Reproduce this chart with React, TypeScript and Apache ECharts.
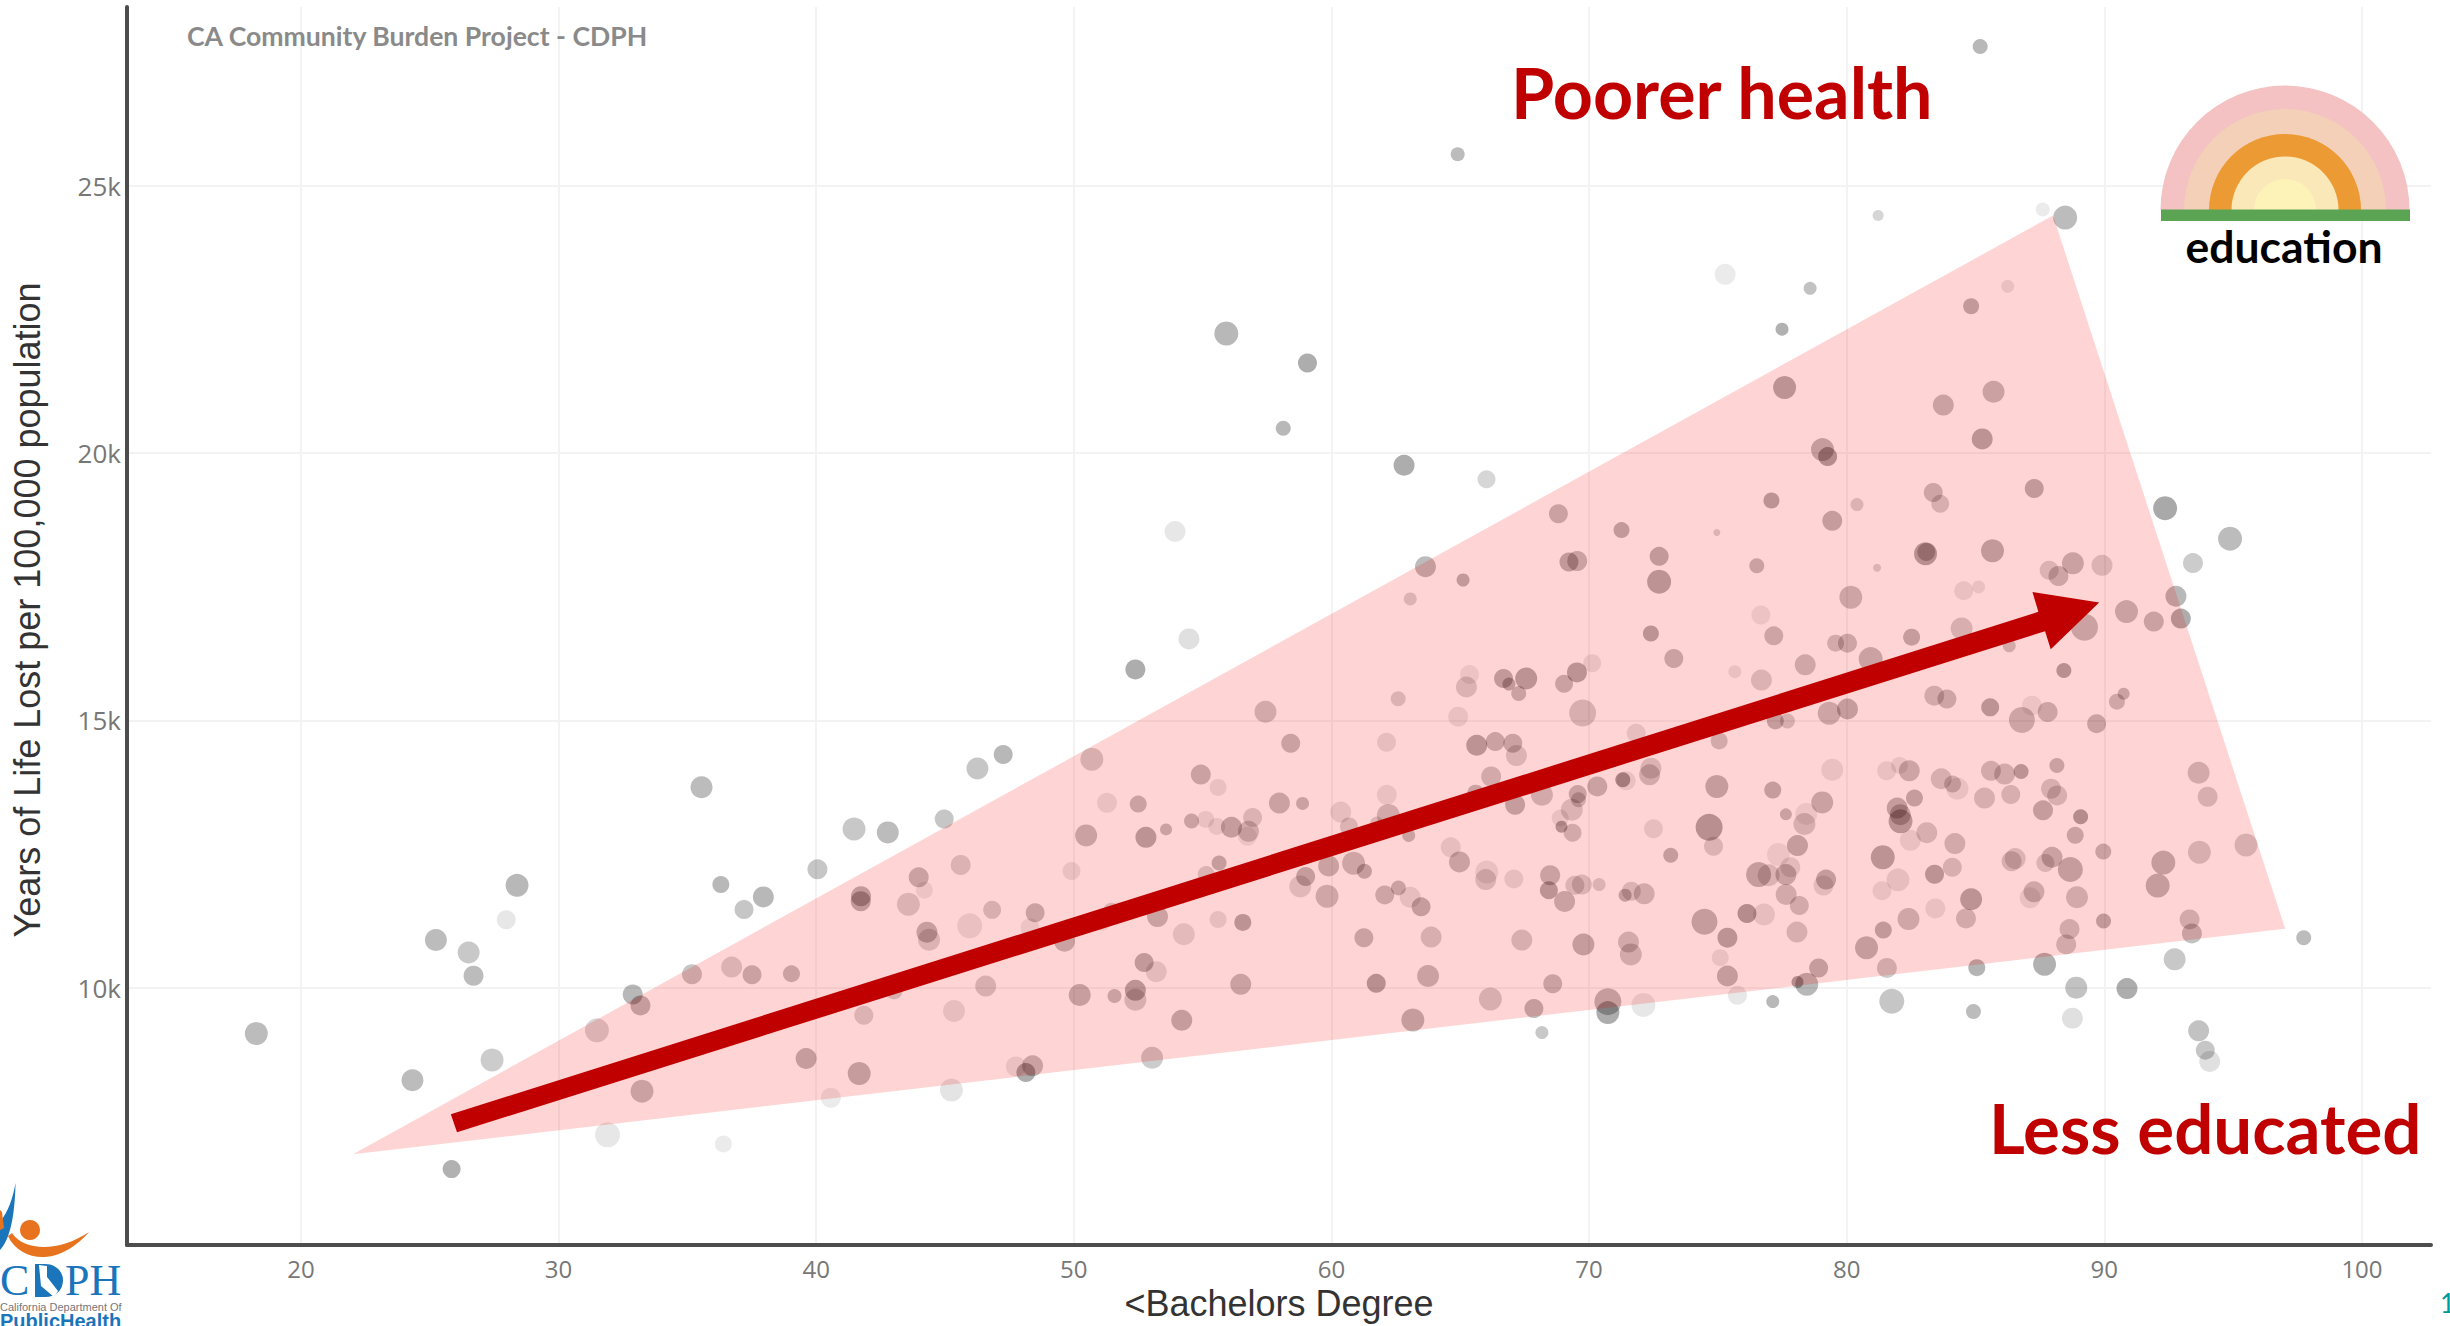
import React, { useEffect, useRef } from "react";
import * as echarts from "echarts";

// Percent of population with less than a bachelor's degree, one value per community
const lessThanBachelors: number[] = [
  36.3,37.2,37.95,40.05,41.47,42.78,44.97,46.26,47.26,52.39,50.7,51.29,52.5,54.93,55.6,55.12,54.57,53.58,52.8,50.48,55.55,49.91,45.61,43.98,44.2,43.58,41.74,41.73,36.72,37.51,39.04,46.83,45.96,44.3,44.38,48.5,48.3,49.64,51.47,51.1,53.25,54.27,55.6,55.14,55.64,54.9,52.73,53.2,52.39,52.39,51.58,50.23,46.58,45.35,43.02,41.85,39.61,41.67,40.57,45.25,47.75,48.4,48.14,53.04,54.19,36.4,
  58.13,62.82,66.02,68.81,71.26,74.96,72.72,72.72,69.22,69.54,63.65,65.11,63.06,72.4,73.29,57.44,58.42,62.59,65.36,65.24,64.92,66.68,66.89,67.56,67.27,69.03,69.53,70.12,69.75,62.14,65.64,66.36,67.04,67.18,71.83,66.2,65.6,72.4,72.35,71.31,71.44,70.32,69.56,68.17,74.96,75.05,62.15,
  57.98,58.88,60.36,56.12,56.94,56.78,56.74,60.68,62.21,61.76,67.13,69.33,68.88,68.93,69.36,69.59,63,64.63,64.97,66.03,65.99,67.08,68.49,68.44,69.45,69.72,70.39,69.05,72.5,74.66,74.83,73.17,71.64,71.4,72.14,74.48,71.53,71.62,69.78,67.39,63.87,61.26,63.48,63.06,62.6,62.07,59.83,59,58.79,59.89,60.86,61.28,56.56,56.48,61.74,63.75,66.17,68.59,67.86,63.16,70.73,70.73,72.11,68.17,
  77.59,83.75,85.7,85.26,79.06,79.26,77.08,79.44,80.4,83.36,83.63,87.28,92.36,76.51,81.18,83.06,83.09,85.66,87.86,88.22,88.78,89.91,93.44,84.54,85.12,80.16,76.67,77.17,79.57,80.03,82.52,84.46,86.31,89.23,90.86,91.92,92.78,92.97,88.43,75.66,76.69,78.39,80.93,83.4,83.89,85.57,87.19,87.8,86.8,90.49,90.75,89.7,77.23,77.7,79.32,80.03,
  79.44,77.13,79.05,77.64,78.43,78.36,78.09,77.35,76.58,76.97,77.64,77.81,79.2,79.1,77.65,78.16,76.13,76.79,75.37,78.07,75.09,75.37,75.76,77.13,78.91,78.09,78.45,81.55,82.05,82.43,83.67,84.11,84.3,85.6,86.13,86.77,88.16,85.35,86.37,87.93,88.17,87.62,89.08,88.87,89.96,82.63,81.96,82.08,82.09,82.47,83.11,84.2,81.4,84.1,83.41,81.99,81.37,84.83,84.63,83.44,82.4,81.42,80.77,81.56,81.75,85.05,84.92,87.68,88.91,88.76,90.88,92.73,93.66,93.92,94.09,86.54,86.4,87.97,87.71,88.68,88.94,87.27,87.12,88.65,88.52,89.97,92.29,92.07,93.69,93.66,94.01,93.31,93.4,
  95.5,97.74,94.88,85.18,81.22,87.61,88.48,75.28,78.58,77.49,84.83,86.25,64.9,55.92,59.07,53.93,54.47,18.27,24.33,25.85,25.24,26.51,26.7,27.42,27.97,28.39,32.88,33.18,31.49,33.24,31.9,35.18,35.55,
];

// Years of life lost per 100,000 population
const yearsOfLifeLost: number[] = [
  11927,11461,11697,12213,12966,12904,13153,14098,14359,15952,14272,13457,13433,13986,13744,13146,13115,12960,12811,12848,13016,12182,12294,12064,11822,11560,11710,11616,10385,10242,10260,11455,11156,11038,10895,11399,11119,10870,11430,11212,11330,11000,11274,12114,12332,11865,10472,10298,9949,9775,9844,9862,10030,9564,9937,9483,8674,8394,7940,8083,8525,8537,8413,8687,9390,7076,
  20462,19771,19510,18863,18558,18515,18067,17594,17961,17980,17874,17625,17271,16624,16157,15162,14571,15405,15859,15623,15069,15784,15678,15784,15504,15685,15896,16070,15137,14590,14534,14602,14571,14341,14758,13949,13638,14105,13980,13887,13868,13763,13620,13607,13763,14615,13607,
  13452,13445,13284,13000,13184,12923,12830,13016,13222,13079,13421,13327,13172,13010,12898,13514,12848,12624,12351,12164,12021,12034,12102,11822,11915,11928,11928,11611,12973,12998,12643,12475,11803,11729,11754,11231,10852,10622,10808,10889,10945,10933,11511,11691,11866,11735,11710,12077,11890,12276,12326,12177,11219,10062,10080,10217,9788,10074,9608,9396,9738,9533,9676,9160,
  21227,20897,21146,20263,20064,19933,19112,18732,19037,19261,19050,19336,18969,17893,17855,18117,18148,18173,17806,17700,17936,17899,17942,17426,17495,17302,16972,16580,16444,16444,16555,16717,16394,16742,17034,16848,17321,16904,15934,15909,15753,16039,16145,15461,15399,15243,15274,15156,15007,15349,15498,14938,14988,14988,15131,15212,
  14075,13695,13465,13241,13247,13061,12657,12489,12115,12103,12115,12252,12022,11910,11742,11537,11388,11369,10934,11039,10561,10218,9858,9739,10368,10106,10063,14056,14156,14056,13907,13807,13720,14056,13994,14044,14156,13546,13614,13720,13596,13316,13198,12849,12545,13546,13359,13235,13111,12756,12899,12694,12439,12252,12122,12016,11811,11655,11294,11481,11282,11077,10747,10368,9746,10374,9553,10436,10000,9428,9982,10529,9192,8831,8620,12414,12364,12439,12333,12209,11692,11792,11680,11095,10809,11245,12339,11910,12532,14019,13571,11276,11014,
  12668,10933,18397,27602,24443,24555,24405,23342,23081,22316,22745,23118,25589,22236,21683,18532,16522,9143,8268,6606,10892,10659,10222,8647,11271,11913,9872,9668,9201,8064,7247,10251,13750,
];

// Bubble diameter per community
const bubbleSize: number[] = [
  17,19,21,20,23,22,19,22,19,20,23,20,17,20,17,17,15,12,21,22,17,18,20,20,17,23,20,20,21,19,17,18,25,21,22,19,19,21,17,16,21,22,17,17,15,13,19,21,21,22,14,22,21,22,17,19,21,23,20,23,20,21,19,22,21,17,
  15,21,18,19,16,7,19,24,19,20,21,13,13,16,19,22,19,15,19,21,20,19,13,22,15,18,20,18,27,19,21,19,19,21,19,20,17,21,21,15,19,20,18,22,23,17,20,
  21,13,21,21,19,21,19,18,23,13,20,22,17,12,18,15,13,20,21,23,21,19,20,18,19,20,13,21,19,27,19,15,19,13,21,26,21,22,22,21,21,19,19,21,15,19,23,19,22,21,23,15,17,21,19,22,23,19,19,23,27,23,24,13,
  23,21,22,21,23,19,16,20,13,19,18,19,24,15,8,23,18,23,19,20,22,21,20,19,13,23,19,19,17,19,17,22,13,27,23,20,21,20,15,13,21,21,24,20,19,18,20,20,26,16,12,19,17,15,23,21,
  22,17,22,12,22,22,21,23,25,22,21,20,20,20,21,19,19,22,20,21,17,21,19,13,19,12,23,19,17,21,21,17,22,20,21,15,15,21,19,20,20,20,15,17,16,17,21,21,24,21,21,21,24,19,19,23,19,22,20,20,22,17,23,20,25,17,15,23,22,21,21,22,21,19,21,21,20,21,18,25,22,21,21,20,20,15,24,24,23,22,20,20,20,
  23,15,24,15,11,14,24,21,13,13,16,13,14,24,19,21,21,23,22,18,22,22,20,23,19,23,20,20,24,23,25,20,22,
];

// Bubble darkness per community
const bubbleShade: number[] = [
  .35,.28,.35,.28,.27,.33,.28,.28,.35,.4,.22,.12,.3,.3,.12,.12,.3,.3,.38,.3,.12,.12,.2,.3,.1,.2,.35,.35,.2,.3,.3,.22,.12,.32,.2,.3,.1,.3,.2,.1,.3,.15,.13,.2,.33,.25,.35,.15,.38,.22,.3,.32,.22,.13,.22,.2,.33,.33,.1,.13,.12,.3,.4,.25,.33,.1,
  .35,.4,.2,.3,.35,.2,.35,.38,.35,.3,.33,.35,.2,.38,.3,.25,.3,.2,.1,.2,.12,.35,.35,.38,.3,.3,.38,.12,.22,.13,.38,.3,.3,.2,.13,.25,.3,.2,.25,.45,.12,.3,.3,.25,.33,.25,.12,
  .3,.3,.13,.33,.2,.25,.1,.2,.25,.2,.33,.2,.12,.4,.25,.25,.3,.13,.3,.12,.2,.13,.3,.38,.2,.2,.2,.3,.13,.4,.2,.33,.2,.33,.25,.33,.25,.25,.33,.22,.22,.3,.33,.13,.3,.28,.27,.33,.17,.3,.28,.33,.38,.3,.4,.3,.22,.3,.33,.33,.33,.4,.12,.27,
  .38,.3,.3,.38,.33,.42,.38,.33,.2,.28,.22,.35,.42,.3,.2,.4,.3,.35,.2,.28,.3,.2,.25,.12,.12,.28,.1,.28,.25,.28,.33,.22,.25,.3,.3,.3,.35,.4,.4,.12,.2,.27,.3,.25,.28,.38,.1,.28,.28,.27,.3,.3,.33,.22,.28,.33,
  .12,.33,.3,.3,.1,.22,.33,.1,.33,.2,.3,.15,.33,.15,.25,.25,.42,.13,.38,.22,.12,.33,.12,.35,.33,.42,.35,.12,.12,.28,.22,.25,.12,.25,.25,.38,.3,.22,.22,.22,.22,.33,.42,.3,.3,.33,.33,.3,.38,.12,.22,.25,.38,.22,.38,.13,.12,.38,.25,.12,.27,.35,.33,.25,.28,.37,.33,.38,.3,.15,.4,.27,.3,.28,.15,.2,.22,.3,.2,.33,.25,.27,.12,.25,.25,.35,.33,.33,.22,.25,.22,.25,.3,
  .22,.33,.33,.35,.2,.1,.33,.1,.3,.38,.35,.12,.33,.35,.4,.12,.15,.33,.33,.38,.33,.27,.33,.25,.12,.35,.35,.33,.2,.3,.12,.28,.33,
];

// Annotated wedge and trend arrow, in axis units
const wedgeX = [22.02, 88.01, 97.02];
const wedgeY = [6884, 24443, 11101];
const arrowX = [25.82, 87.44, 87.21, 89.8, 87.92, 87.7, 26.06];
const arrowY = [7630, 17029, 17402, 17203, 16331, 16667, 7294];

const xTicks = [20, 30, 40, 50, 60, 70, 80, 90, 100];
const yTicks = [10000, 15000, 20000, 25000];

const swooshBlue = "M15.5 1183 C15 1215 10 1240 0 1250 L0 1222 C8 1212 13 1198 15.5 1183 Z";
const swooshOrange = "M8 1236 C14 1250 30 1258 45 1257 C62 1256 78 1245 89 1232 C74 1242 58 1247 44 1247 C30 1247 18 1242 12 1233 Z";
const logoD = "M35 1264 L45 1264 C56 1264 63 1272 63 1280 C63 1290 56 1297 45 1297 L35 1297 Z";
const logoState = "M39 1265 L47 1266 L47 1277 L58 1291 L54 1297 L41 1286 Z";
echarts.graphic.registerShape("swooshBlue", echarts.graphic.extendPath(swooshBlue, {}));
echarts.graphic.registerShape("swooshOrange", echarts.graphic.extendPath(swooshOrange, {}));
echarts.graphic.registerShape("logoD", echarts.graphic.extendPath(logoD, {}));
echarts.graphic.registerShape("logoState", echarts.graphic.extendPath(logoState, {}));

const RED = "#C00000";
const arc = (r: number, fill: string) => ({
  type: "sector",
  z: 20,
  shape: { cx: 2285, cy: 210, r, r0: 0, startAngle: Math.PI, endAngle: 2 * Math.PI },
  style: { fill },
});
const label = (text: string, x: number, y: number, fontSize: number, fill: string, fontFamily = "Lato", fontWeight: any = "bold", align = "left") => ({
  type: "text",
  z: 30,
  x,
  y,
  style: { text, fontSize, fill, fontFamily, fontWeight, align, verticalAlign: "middle" },
});

function polygonItem(xs: number[], ys: number[], fill: string) {
  return (_p: any, api: any) => ({
    type: "polygon",
    shape: { points: xs.map((x, i) => api.coord([x, ys[i]])) },
    style: { fill },
  });
}

export default function App() {
  const ref = useRef<HTMLDivElement>(null);
  useEffect(() => {
    const chart = echarts.init(ref.current!, null, { renderer: "svg" });
    const points = lessThanBachelors.map((x, i) => [x, yearsOfLifeLost[i], bubbleSize[i] ?? 18, bubbleShade[i] ?? 0.3]);
    chart.setOption({
      animation: false,
      backgroundColor: "#ffffff",
      title: {
        text: "CA Community Burden Project - CDPH",
        left: 187,
        top: 22,
        padding: 0,
        textStyle: { color: "#8a8a8a", fontFamily: "Lato", fontWeight: "bold", fontSize: 26.6 },
      },
      grid: { left: 127, right: 19, top: 7, bottom: 78 },
      xAxis: {
        type: "value",
        min: 13.25,
        max: 102.68,
        name: "<Bachelors Degree",
        nameLocation: "middle",
        nameGap: 40,
        nameTextStyle: { fontFamily: "Liberation Sans", fontSize: 36, color: "#333" },
        axisLine: { onZero: false, lineStyle: { color: "#4d4d4d", width: 4 } },
        axisTick: { show: false, customValues: xTicks },
        axisLabel: { customValues: xTicks, color: "#777", fontFamily: "Open Sans", fontSize: 24, margin: 11 },
        splitLine: { show: true, lineStyle: { color: "#f3f3f3", width: 2 } },
      },
      yAxis: {
        type: "value",
        min: 5186,
        max: 28343,
        name: "Years of Life Lost per 100,000 population",
        nameLocation: "middle",
        nameGap: 82,
        nameTextStyle: { fontFamily: "Liberation Sans", fontSize: 36, color: "#333", padding: [0, 0, 0, 32] },
        axisLine: { onZero: false, lineStyle: { color: "#4d4d4d", width: 4 } },
        axisTick: { show: false, customValues: yTicks },
        axisLabel: {
          customValues: yTicks,
          color: "#777",
          fontFamily: "Open Sans",
          fontSize: 26,
          margin: 6,
          padding: [6, 0, 0, 0],
          formatter: (v: number) => `${v / 1000}k`,
        },
        splitLine: { show: true, lineStyle: { color: "#f3f3f3", width: 2 } },
      },
      series: [
        {
          type: "scatter",
          name: "communities",
          z: 2,
          symbol: "circle",
          symbolSize: (v: number[]) => v[2],
          itemStyle: { color: (p: any) => `rgba(0,0,0,${p.value[3]})` },
          data: points,
        },
        {
          type: "custom",
          name: "wedge",
          z: 3,
          silent: true,
          clip: false,
          data: [[wedgeX[0], wedgeY[0]]],
          renderItem: polygonItem(wedgeX, wedgeY, "rgba(255,0,0,0.169)"),
        },
        {
          type: "custom",
          name: "trend",
          z: 4,
          silent: true,
          clip: false,
          data: [[arrowX[0], arrowY[0]]],
          renderItem: polygonItem(arrowX, arrowY, RED),
        },
      ],
      graphic: [
        arc(124.5, "#F4C2C2"),
        arc(101, "#F4D0B8"),
        arc(76, "#EC9A33"),
        arc(53.5, "#FAE8B8"),
        arc(31, "#FDF3B8"),
        { type: "rect", z: 21, shape: { x: 2161, y: 209.5, width: 249, height: 11.5 }, style: { fill: "#5AA454" } },
        label("education", 2284, 245, 44.5, "#000", "Lato", "bold", "center"),
        label("Poorer health", 1511, 92, 70, RED),
        label("Less educated", 1989, 1127, 69, RED),
        label("1", 2440, 1303, 26, "#009999", "Lato", "normal"),
        { type: "swooshBlue", z: 25, style: { fill: "#1B75BB" } },
        { type: "swooshOrange", z: 25, style: { fill: "#E8731E" } },
        { type: "circle", z: 25, shape: { cx: 30, cy: 1230, r: 10 }, style: { fill: "#E8731E" } },
        { type: "polygon", z: 25, shape: { points: [[0, 1210], [2, 1212], [4, 1228], [0, 1230]] }, style: { fill: "#E8731E" } },
        label("C", 0, 1280, 44, "#1B75BB", "Liberation Serif", "normal"),
        { type: "logoD", z: 25, style: { fill: "#1B75BB" } },
        { type: "logoState", z: 26, style: { fill: "#ffffff" } },
        label("PH", 65, 1280, 44, "#1B75BB", "Liberation Serif", "normal"),
        label("California Department Of", 0, 1307, 11, "#777", "Liberation Sans", "normal"),
        label("PublicHealth", 0, 1321, 20, "#1B75BB", "Liberation Sans", "bold"),
      ],
    });
    return () => chart.dispose();
  }, []);
  return <div ref={ref} style={{ position: "fixed", left: 0, top: 0, width: 2450, height: 1326 }} />;
}
